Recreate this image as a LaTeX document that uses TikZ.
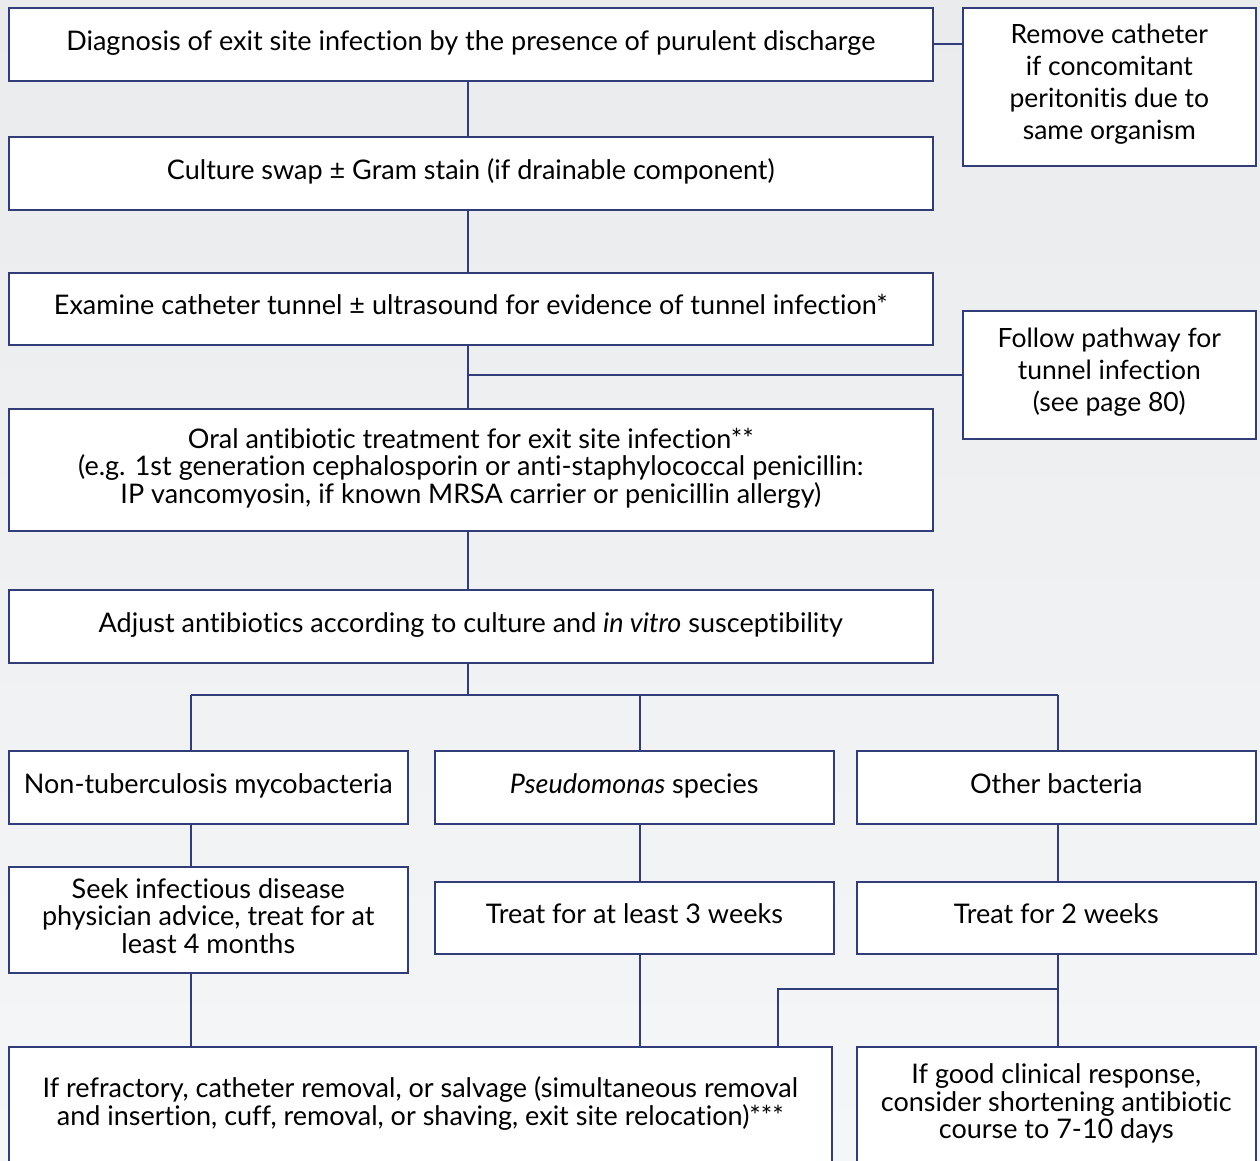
\documentclass[tikz,border=0pt]{standalone}
\usepackage{fontspec}
\setmainfont{Lato}[Ligatures=NoCommon]
\definecolor{edge}{RGB}{50,60,120}
\definecolor{bgtop}{RGB}{234,235,237}
\definecolor{bgbot}{RGB}{245,246,247}
\tikzset{
  box/.style={draw=edge, line width=1.6pt, fill=white, inner sep=0pt,
    align=center, font=\fontsize{27}{27.5}\selectfont,
    execute at begin node=\strut, execute at end node=\strut},
  sidebox/.style={box, font=\fontsize{26.5}{32}\selectfont},
  link/.style={draw=edge, line width=1.6pt},
}
% name, left, top, right, bottom, style, text
\newcommand\flowbox[7]{%
  \node[#6, anchor=north west, minimum width={#4-#2}, minimum height={#5-#3}]
    (#1) at (#2,#3) {#7};}
\begin{document}
\begin{tikzpicture}[x=1pt,y=-1pt]
  \shade[top color=bgtop, bottom color=bgbot] (0,0) rectangle (1260,1161);
  \useasboundingbox (0,0) rectangle (1260,1161);

  \flowbox{diag}{8}{7}{932}{80}{box}{Diagnosis of exit site infection by the presence of purulent discharge}
  \flowbox{remove}{962}{7}{1255}{165}{sidebox}{Remove catheter\\if concomitant\\peritonitis due to\\same organism}
  \flowbox{cult}{8}{136}{932}{209}{box}{Culture swap ± Gram stain (if drainable component)}
  \flowbox{exam}{8}{272}{932}{344}{box}{Examine catheter tunnel ± ultrasound for evidence of tunnel infection*}
  \flowbox{follow}{962}{310}{1255}{438}{sidebox}{Follow pathway for\\tunnel infection\\(see page 80)}
  \flowbox{oral}{8}{408}{932}{530}{box}{Oral antibiotic treatment for exit site infection**\\(e.g. 1st generation cephalosporin or anti-staphylococcal penicillin:\\IP vancomyosin, if known MRSA carrier or penicillin allergy)}
  \flowbox{adj}{8}{589}{932}{662}{box}{Adjust antibiotics according to culture and \textit{in vitro} susceptibility}
  \flowbox{ntm}{8}{750}{407}{823}{box}{Non-tuberculosis mycobacteria}
  \flowbox{pseu}{434}{750}{833}{823}{box}{\textit{Pseudomonas} species}
  \flowbox{other}{856}{750}{1255}{823}{box}{Other bacteria}
  \flowbox{seek}{8}{866}{407}{972}{box}{Seek infectious disease\\physician advice, treat for at\\least 4 months}
  \flowbox{wthree}{434}{881}{833}{953}{box}{Treat for at least 3 weeks}
  \flowbox{wtwo}{856}{881}{1255}{953}{box}{Treat for 2 weeks}
  \flowbox{refr}{8}{1046}{831}{1163}{box}{If refractory, catheter removal, or salvage (simultaneous removal\\and insertion, cuff, removal, or shaving, exit site relocation)***}
  \flowbox{good}{856}{1046}{1255}{1163}{box}{If good clinical response,\\consider shortening antibiotic\\course to 7-10 days}

  % main spine
  \coordinate (spine) at (468,0);
  \draw[link] (diag.east) -- (remove.west |- diag.east);
  \draw[link] (diag.south -| spine) -- (cult.north -| spine);
  \draw[link] (cult.south -| spine) -- (exam.north -| spine);
  \draw[link] (exam.south -| spine) -- (oral.north -| spine);
  \draw[link] (spine |- follow.west) -- (follow.west);
  \draw[link] (oral.south -| spine) -- (adj.north -| spine);

  % branching bus
  \coordinate (ca) at (191,695);
  \coordinate (cb) at (640,695);
  \coordinate (cc) at (1058,695);
  \draw[link] (adj.south -| spine) -- (spine |- ca);
  \draw[link] (ca) -- (cc);
  \draw[link] (ca) -- (ntm.north -| ca);
  \draw[link] (cb) -- (pseu.north -| cb);
  \draw[link] (cc) -- (other.north -| cc);

  % lower columns
  \draw[link] (ntm.south -| ca) -- (seek.north -| ca);
  \draw[link] (seek.south -| ca) -- (refr.north -| ca);
  \draw[link] (pseu.south -| cb) -- (wthree.north -| cb);
  \draw[link] (wthree.south -| cb) -- (refr.north -| cb);
  \draw[link] (other.south -| cc) -- (wtwo.north -| cc);
  \draw[link] (wtwo.south -| cc) -- (good.north -| cc);
  \coordinate (split) at (1058,989);
  \coordinate (cd) at (778,989);
  \draw[link] (split) -- (cd) -- (refr.north -| cd);
\end{tikzpicture}
\end{document}
